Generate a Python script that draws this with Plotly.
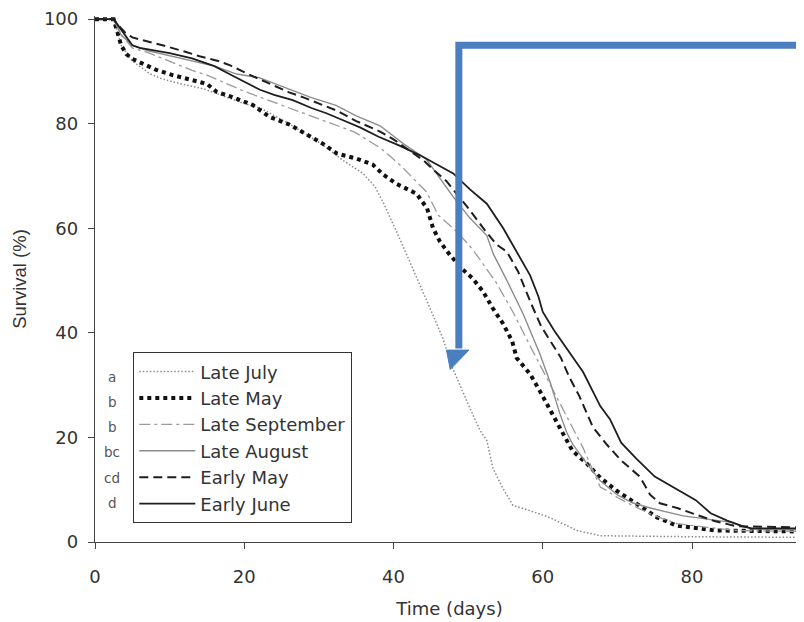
import plotly.graph_objects as go

# ---- data ----
series_names = ["Late July", "Late May", "Late September", "Late August", "Early May", "Early June"]
group_letters = ["a", "b", "b", "bc", "cd", "d"]

late_july_days = [0, 2.5, 3.5, 5, 7.3, 8.9, 11.6, 14.7, 17.0, 20.1, 22.3, 26, 28.5, 30.5, 33.2, 35.9, 37.5,
                  38.6, 40.8, 42.6, 44.5, 46.6, 47.9, 50.2, 51.6, 52.5, 53.3, 54.6, 55.6, 56.0, 58.3, 60.9,
                  64.6, 67.7, 80, 95]
late_july_surv = [100, 100, 95, 92, 89.6, 88.6, 87.6, 86.6, 85.4, 83.8, 82.9, 80, 77.8, 76, 73, 70.5, 68,
                  65, 58.1, 52.3, 46.0, 39.0, 33.3, 25.7, 21.3, 19.4, 14.2, 10.4, 7.9, 7.0, 6.0, 4.7,
                  2.2, 1.2, 1.0, 0.9]

late_may_days = [0, 2.5, 3.5, 4.2, 5.0, 6.4, 8.2, 10.4, 12.7, 15.0, 16.3, 18.4, 21.1, 23.4, 26.1, 28.4,
                 30.5, 32.4, 35.1, 37.2, 38.6, 40.4, 43.1, 44.5, 45.3, 46.2, 47.5, 49.3, 50.6, 52.0, 53.3,
                 54.7, 55.9, 56.5, 58.3, 59.6, 61.0, 62.3, 64.0, 65.9, 67.7, 69.9, 72.6, 75.3, 78.0, 80.7,
                 83.3, 95]
late_may_surv = [100, 100, 95.0, 93.3, 92.4, 91.4, 90.3, 89.3, 88.4, 87.6, 86.1, 85.1, 83.6, 81.3, 79.8,
                 77.9, 76.2, 74.3, 73.3, 72.2, 70.3, 68.5, 66.6, 63.8, 60.0, 57.5, 55.0, 52.1, 50.4, 47.9,
                 44.7, 41.7, 38.4, 35.2, 32.1, 28.9, 25.1, 21.8, 17.4, 15.0, 12.3, 9.8, 7.3, 4.7, 3.1, 2.6,
                 2.2, 2.0]

late_sep_days = [0, 2.5, 3.5, 5, 7.3, 10, 13, 15, 18, 20, 23, 26, 29, 31.7, 34.8, 38.4, 41.1, 43, 44.4,
                 46, 48, 50, 51.3, 53.8, 56, 58.3, 61, 63.6, 65.4, 67.7, 68.6, 70, 72, 75, 78, 82, 86, 95]
late_sep_surv = [100, 100, 97, 94.5, 93.5, 92, 90.2, 89.3, 87.5, 86.2, 84.6, 83, 81.5, 80, 78.4, 75.2,
                 71.8, 69, 67, 62.5, 60, 57, 54.6, 49.5, 44, 37.5, 30.2, 23.1, 18, 10.5, 9.8, 8.5, 7, 5,
                 3.5, 2.8, 2.2, 2.0]

late_aug_days = [0, 2.5, 3.5, 5, 7, 10, 13, 16, 19, 22, 26, 29, 32.3, 35, 38.2, 41.3, 44.4, 46, 48, 50.2,
                 52.5, 53.4, 55.2, 57.4, 59.6, 61, 62.3, 63.2, 64, 65.9, 67.7, 70, 72, 74.4, 78.8, 85.5,
                 88, 95]
late_aug_surv = [100, 100, 97, 95, 94, 93, 92, 91, 89.5, 88.8, 86.6, 85, 83.5, 81.5, 79.6, 76.2, 73.2,
                 70, 66, 62, 58.6, 55, 50, 43.5, 36, 30.5, 24.5, 21, 18.7, 15, 11.7, 9, 7.5, 6.5, 5, 3.7,
                 2.5, 2.3]

early_may_days = [0, 2.5, 3, 4, 5, 7.3, 9.3, 12, 14, 16.5, 18.2, 20.5, 23, 26, 28, 30, 32.4, 35, 38.2,
                  40, 42, 44, 45.5, 47.1, 50.1, 52.2, 53.8, 55.2, 56.7, 57.6, 58.5, 59.8, 61, 62.4, 63.6,
                  64.9, 66.7, 68.6, 70.5, 73, 74.4, 75.7, 78, 80, 83, 86, 95]
early_may_surv = [100, 100, 99, 97.5, 96.5, 95.7, 94.9, 93.8, 92.9, 92, 91.1, 89.5, 87.9, 86, 85, 83.8,
                  82.5, 80.5, 78.5, 77, 75, 73, 71, 69, 63.7, 59.7, 56.9, 55.5, 51.7, 48.5, 45.4, 41.2,
                  38.4, 35.3, 31.4, 27.9, 22, 18.6, 15.6, 12.5, 9, 7.4, 6.5, 5.5, 4, 3, 2.8]

early_june_days = [0, 2.5, 3, 4, 5, 6, 8, 10, 13, 16, 18, 20, 22.1, 24, 26.5, 29, 31, 33, 35.5, 38, 40.8,
                   43.5, 46, 48, 50.2, 52.5, 54.7, 56.5, 58.3, 59.4, 60, 61.5, 63.2, 65.4, 67.7, 69, 70.5,
                   72.5, 75, 78, 80.5, 82.5, 84.7, 86.8, 88, 95]
early_june_surv = [100, 100, 99, 97, 95, 94.5, 94, 93.5, 92.5, 91, 89.5, 88, 86.5, 85.5, 84.5, 83, 82,
                   80.8, 79.3, 77.5, 75.8, 74, 72, 70.5, 67.5, 64.7, 60, 55.6, 51, 47, 44, 40.5, 37, 32.5,
                   26, 23.5, 19, 16, 12.5, 10, 8, 5.5, 4.1, 3, 2.6, 2.6]

x_ticks = [0, 20, 40, 60, 80]
y_ticks = [0, 20, 40, 60, 80, 100]

FONT = "DejaVu Sans, sans-serif"
FONT_NARROW = "Liberation Sans, Arial, sans-serif"

styles = [
    dict(color="#8a8a8a", width=1.5, dash="1.5px,2px"),         # Late July
    dict(color="#111111", width=4, dash="4px,4px"),             # Late May
    dict(color="#9a9a9a", width=1.3, dash="11px,4px,3px,4px"),  # Late September
    dict(color="#8c8c8c", width=1.4, dash="solid"),             # Late August
    dict(color="#1e1e1e", width=2.0, dash="9px,5px"),           # Early May
    dict(color="#1e1e1e", width=1.8, dash="solid"),             # Early June
]

data = [
    (late_july_days, late_july_surv),
    (late_may_days, late_may_surv),
    (late_sep_days, late_sep_surv),
    (late_aug_days, late_aug_surv),
    (early_may_days, early_may_surv),
    (early_june_days, early_june_surv),
]

fig = go.Figure()
for name, (dx, sy), st in zip(series_names, data, styles):
    fig.add_trace(go.Scatter(x=dx, y=sy, mode="lines", name=name, line=st))

# group letters next to the legend
letter_y = [31.5, 26.8, 22.0, 17.2, 12.2, 7.5]
for letter, ly in zip(group_letters, letter_y):
    fig.add_annotation(x=2.3, y=ly, xref="x", yref="y", text=letter, showarrow=False,
                       font=dict(family=FONT, size=13.5, color="#555555"))

# blue arrow (annotation decoration)
blue = "#4a7ebf"
fig.add_shape(type="path", xref="x", yref="y", layer="above",
              path="M 96,95.0 L 48.75,95.0 L 48.75,37.0",
              line=dict(color=blue, width=7))
fig.add_shape(type="path", xref="x", yref="y", layer="above",
              path="M 47.1,36.7 L 50.1,36.7 L 47.6,33.0 Z",
              line=dict(color=blue, width=1), fillcolor=blue)

# the page body has an 8px margin, so the figure is sized/offset to fill the 804x622 view
fig.update_layout(
    width=796, height=614,
    margin=dict(l=87, r=0, t=8, b=80),
    paper_bgcolor="white", plot_bgcolor="white",
    font=dict(family=FONT, size=18, color="#333333"),
    showlegend=True,
    legend=dict(x=0.0536, y=0.361, xanchor="left", yanchor="top",
                bordercolor="#333333", borderwidth=1.3, bgcolor="white",
                font=dict(family=FONT, size=18, color="#333333"),
                itemwidth=56, tracegroupgap=0),
    xaxis=dict(range=[0, 95], tickvals=x_ticks, showgrid=False, zeroline=False,
               showline=True, linecolor="#444444", linewidth=1.3,
               ticks="outside", ticklen=6, tickcolor="#444444", tickwidth=1.3,
               ticklabelstandoff=12, tickfont=dict(size=18),
               title=dict(text="Time (days)", font=dict(size=18), standoff=16)),
    yaxis=dict(range=[0, 100.6], tickvals=y_ticks, showgrid=False, zeroline=False,
               showline=True, linecolor="#444444", linewidth=1.3,
               ticks="outside", ticklen=6, tickcolor="#444444", tickwidth=1.3,
               ticklabelstandoff=6, tickfont=dict(size=18),
               title=dict(text="Survival (%)", font=dict(family=FONT_NARROW, size=18.5), standoff=12)),
)

fig.write_html("out.html")
